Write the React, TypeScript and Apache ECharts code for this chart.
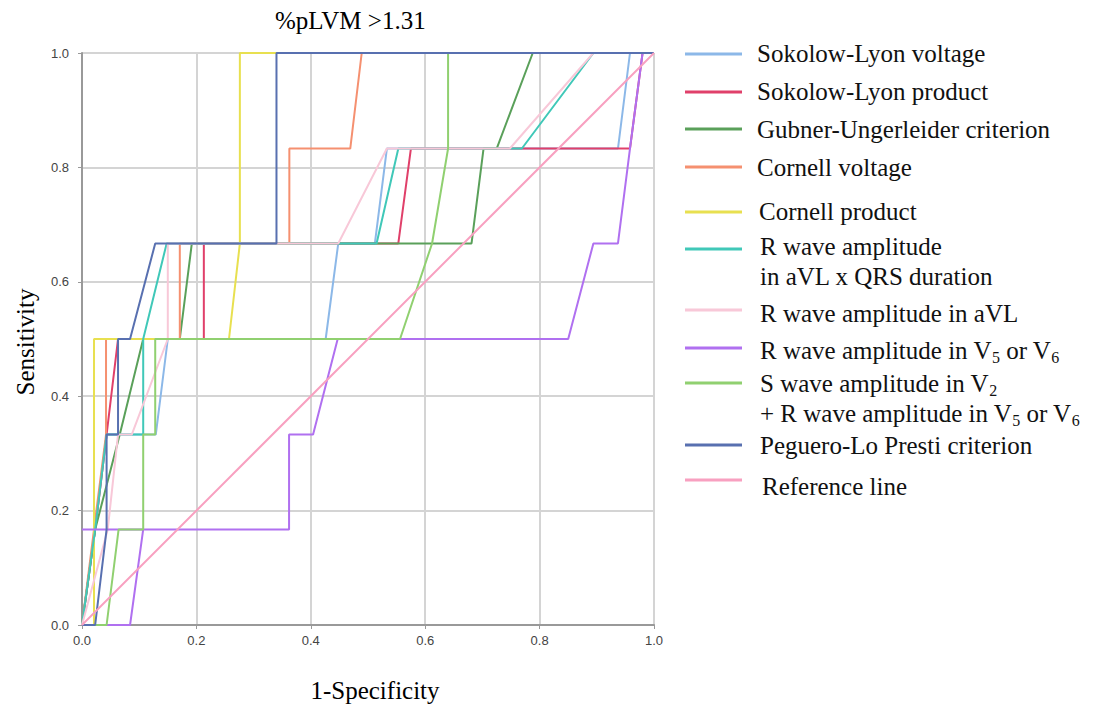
import React, { useEffect, useRef } from "react";
import * as echarts from "echarts";

const title = "%pLVM >1.31";
const xName = "1-Specificity";
const yName = "Sensitivity";

const names = [
  "Sokolow-Lyon voltage",
  "Sokolow-Lyon product",
  "Gubner-Ungerleider criterion",
  "Cornell voltage",
  "Cornell product",
  "R wave amplitude in aVL x QRS duration",
  "R wave amplitude in aVL",
  "R wave amplitude in V5 or V6",
  "S wave amplitude in V2 + R wave amplitude in V5 or V6",
  "Peguero-Lo Presti criterion",
  "Reference line",
];

const colors = [
  "#8cb8e8",
  "#e0406a",
  "#5aa05a",
  "#f59070",
  "#e8e050",
  "#40c8b8",
  "#f8c8d8",
  "#b070f0",
  "#90d070",
  "#5870b0",
  "#f8a0c0",
];

const sokolowVoltage = [[0,0],[0.023,0.167],[0.043,0.333],[0.129,0.333],[0.15,0.5],[0.426,0.5],[0.448,0.667],[0.512,0.667],[0.533,0.833],[0.937,0.833],[0.958,1],[1,1]];
const sokolowProduct = [[0,0],[0.023,0.167],[0.043,0.333],[0.063,0.5],[0.213,0.5],[0.213,0.667],[0.553,0.667],[0.575,0.833],[0.958,0.833],[0.98,1],[1,1]];
const gubner = [[0,0],[0.023,0.167],[0.066,0.333],[0.107,0.5],[0.171,0.5],[0.192,0.667],[0.681,0.667],[0.702,0.833],[0.725,0.833],[0.788,1],[1,1]];
const cornellVoltage = [[0,0],[0.021,0.167],[0.042,0.333],[0.042,0.5],[0.171,0.5],[0.171,0.667],[0.3625,0.667],[0.3625,0.833],[0.469,0.833],[0.489,1],[1,1]];
const cornellProduct = [[0,0],[0.021,0],[0.021,0.5],[0.257,0.5],[0.276,0.667],[0.276,1],[1,1]];
const rAvlQrs = [[0,0],[0.023,0.167],[0.043,0.333],[0.107,0.333],[0.107,0.5],[0.148,0.667],[0.515,0.667],[0.553,0.833],[0.769,0.833],[0.894,1],[1,1]];
const rAvl = [[0,0],[0.045,0.167],[0.063,0.333],[0.087,0.333],[0.15,0.5],[0.15,0.667],[0.448,0.667],[0.533,0.833],[0.748,0.833],[0.894,1],[1,1]];
const rV5V6 = [[0,0],[0.084,0],[0.107,0.167],[0,0.167],[0.362,0.167],[0.362,0.333],[0.404,0.333],[0.447,0.5],[0.85,0.5],[0.894,0.667],[0.937,0.667],[0.958,0.833],[0.98,1],[1,1]];
const sWave = [[0,0],[0.043,0],[0.064,0.167],[0.107,0.167],[0.107,0.333],[0.128,0.333],[0.128,0.5],[0.556,0.5],[0.612,0.667],[0.64,0.833],[0.64,1],[1,1]];
const peguero = [[0,0],[0.023,0],[0.043,0.167],[0.043,0.333],[0.063,0.333],[0.063,0.5],[0.084,0.5],[0.128,0.667],[0.34,0.667],[0.34,1],[1,1]];
const referenceLine = [[0,0],[1,1]];

const seriesData = [sokolowVoltage, sokolowProduct, gubner, cornellVoltage, cornellProduct, rAvlQrs, rAvl, rV5V6, sWave, peguero, referenceLine];

const legendRows: { lines: string[]; ly: number; ty: number; tx: number }[] = [
  { lines: ["Sokolow-Lyon voltage"], ly: 54, ty: 53, tx: 757 },
  { lines: ["Sokolow-Lyon product"], ly: 92, ty: 91, tx: 757 },
  { lines: ["Gubner-Ungerleider criterion"], ly: 129, ty: 129, tx: 757 },
  { lines: ["Cornell voltage"], ly: 167, ty: 167, tx: 757 },
  { lines: ["Cornell product"], ly: 212, ty: 211, tx: 759 },
  { lines: ["R wave amplitude", "in aVL x QRS duration"], ly: 249, ty: 246, tx: 760 },
  { lines: ["R wave amplitude in aVL"], ly: 310, ty: 313, tx: 760 },
  { lines: ["R wave amplitude in V{s|5} or V{s|6}"], ly: 348, ty: 350, tx: 760 },
  { lines: ["S wave amplitude in V{s|2}", "+ R wave amplitude in V{s|5} or V{s|6}"], ly: 383, ty: 383, tx: 760 },
  { lines: ["Peguero-Lo Presti criterion"], ly: 445, ty: 445, tx: 760 },
  { lines: ["Reference line"], ly: 480, ty: 486, tx: 762 },
];

const serif = "'Liberation Serif', 'Times New Roman', serif";

export default function App() {
  const ref = useRef<HTMLDivElement>(null);
  useEffect(() => {
    if (!ref.current) return;
    const chart = echarts.init(ref.current, null, { renderer: "svg" });
    const graphics: any[] = [];
    graphics.push({
      type: "text",
      left: 275,
      top: 8,
      style: { text: title, font: `25px ${serif}`, fill: "#000" },
    });
    graphics.push({
      type: "text",
      x: 375,
      y: 690,
      style: { text: xName, font: `25px ${serif}`, fill: "#000", align: "center", verticalAlign: "middle" },
    });
    graphics.push({
      type: "text",
      x: 25,
      y: 342,
      rotation: Math.PI / 2,
      style: { text: yName, font: `25px ${serif}`, fill: "#000", align: "center", verticalAlign: "middle" },
    });
    legendRows.forEach((row, i) => {
      graphics.push({
        type: "line",
        shape: { x1: 685, y1: row.ly, x2: 742, y2: row.ly },
        style: { stroke: colors[i], lineWidth: 3 },
      });
      row.lines.forEach((t, j) => {
        graphics.push({
          type: "text",
          x: row.tx,
          y: row.ty + j * 30,
          style: {
            text: t,
            fontSize: 25,
            fontFamily: serif,
            fill: "#111",
            verticalAlign: "middle",
            lineHeight: 30,
            rich: {
              s: { fontSize: 16, fontFamily: serif, lineHeight: 16, verticalAlign: "bottom", fill: "#111" },
            },
          },
        });
      });
    });

    chart.setOption({
      animation: false,
      backgroundColor: "#fff",
      grid: { left: 82, right: 1097 - 654, top: 53, bottom: 711 - 625, containLabel: false },
      xAxis: {
        type: "value",
        min: 0,
        max: 1,
        interval: 0.2,
        axisLine: { show: true, lineStyle: { color: "#999", width: 2 } },
        axisTick: { show: true, length: 4, lineStyle: { color: "#999" } },
        axisLabel: { color: "#444", fontSize: 13, fontFamily: "'Liberation Sans', Arial, sans-serif", margin: 9, formatter: (v: number) => v.toFixed(1) },
        splitLine: { show: true, lineStyle: { color: "#d4d4d4", width: 2 } },
      },
      yAxis: {
        type: "value",
        min: 0,
        max: 1,
        interval: 0.2,
        axisLine: { show: true, lineStyle: { color: "#999", width: 2 } },
        axisTick: { show: true, length: 4, lineStyle: { color: "#999" } },
        axisLabel: { color: "#444", fontSize: 13, fontFamily: "'Liberation Sans', Arial, sans-serif", margin: 13, formatter: (v: number) => v.toFixed(1) },
        splitLine: { show: true, lineStyle: { color: "#d4d4d4", width: 2 } },
      },
      series: seriesData.map((d, i) => ({
        name: names[i],
        type: "line",
        data: d,
        symbol: "none",
        lineStyle: { color: colors[i], width: 2 },
        itemStyle: { color: colors[i] },
        z: 2 + i,
      })),
      graphic: graphics,
    });
    return () => chart.dispose();
  }, []);
  return <div ref={ref} style={{ width: 1097, height: 711, position: "absolute", left: 0, top: 0 }} />;
}
